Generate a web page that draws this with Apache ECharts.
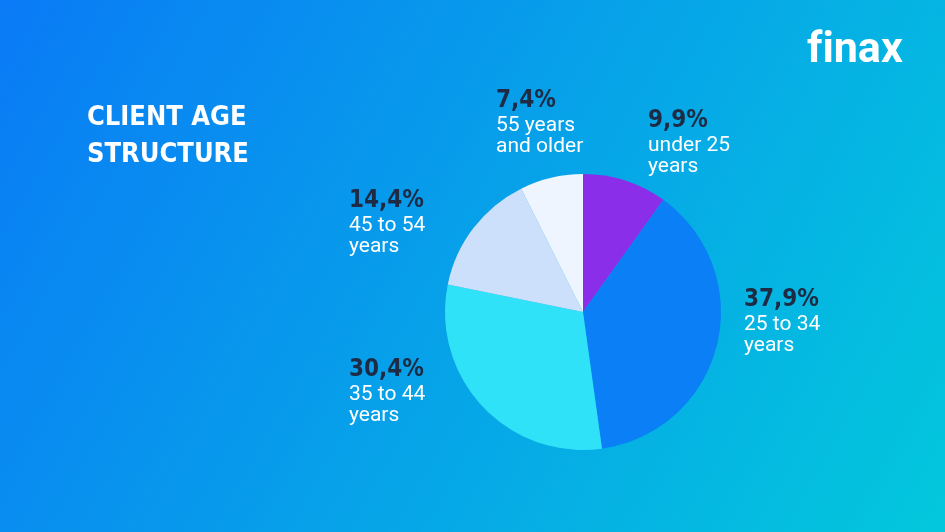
<!DOCTYPE html>
<html>
<head>
<meta charset="utf-8">
<script src="https://cdn.jsdelivr.net/npm/echarts@6/dist/echarts.min.js"></script>
<style>
  html, body { margin: 0; padding: 0; }
  #chart { width: 945px; height: 532px; }
</style>
</head>
<body>
<div id="chart"></div>
<script>
// Data, clockwise from 12 o'clock
const categories = ['under 25\nyears', '25 to 34\nyears', '35 to 44\nyears', '45 to 54\nyears', '55 years\nand older'];
const shares = [9.9, 37.9, 30.4, 14.4, 7.4];
const sliceColors = ['#8a2eea', '#0a7ff6', '#2fe2f8', '#cde0fb', '#eef5fe'];
// label anchor (top-left) per slice
const labelSpots = [[648, 107], [744, 286], [349, 356], [349, 187], [496, 87]];

const condensed = '"DejaVu Sans Condensed", sans-serif';

const chart = echarts.init(document.getElementById('chart'));

chart.setOption({
  backgroundColor: new echarts.graphic.LinearGradient(0, 0, 1, 1, [
    { offset: 0, color: '#0a7bf6' },
    { offset: 1, color: '#03c8dc' }
  ]),
  title: {
    text: 'CLIENT AGE\nSTRUCTURE',
    left: 82, top: 94,
    textStyle: {
      color: '#ffffff', fontSize: 27, fontWeight: 'bold', lineHeight: 37,
      fontFamily: condensed
    }
  },
  graphic: [{
    type: 'text', left: 807, top: 30,
    style: {
      text: 'f\u200Binax', fill: '#ffffff',
      font: 'bold 43px "Roboto", "Liberation Sans", sans-serif'
    }
  }],
  series: [{
    type: 'pie',
    center: [583, 312],
    radius: [0, 138],
    startAngle: 90,
    clockwise: true,
    animation: false,
    data: shares.map((v, i) => ({
      name: categories[i], value: v,
      itemStyle: { color: sliceColors[i] }
    })),
    label: {
      show: true,
      position: 'outside',
      align: 'left',
      formatter: p => '{pct|' + p.value.toFixed(1).replace('.', ',') + '%}\n{txt|' + p.name.replace('\n', '}\n{txt|') + '}',
      rich: {
        pct: {
          color: '#1d2b45', fontSize: 24, fontWeight: 'bold', lineHeight: 28,
          fontFamily: condensed
        },
        txt: {
          color: '#ffffff', fontSize: 21, lineHeight: 21,
          fontFamily: '"Roboto", "Liberation Sans", sans-serif'
        }
      }
    },
    labelLine: { show: false },
    labelLayout: p => ({
      x: labelSpots[p.dataIndex][0],
      y: labelSpots[p.dataIndex][1],
      align: 'left',
      verticalAlign: 'top'
    })
  }]
});
</script>
</body>
</html>
